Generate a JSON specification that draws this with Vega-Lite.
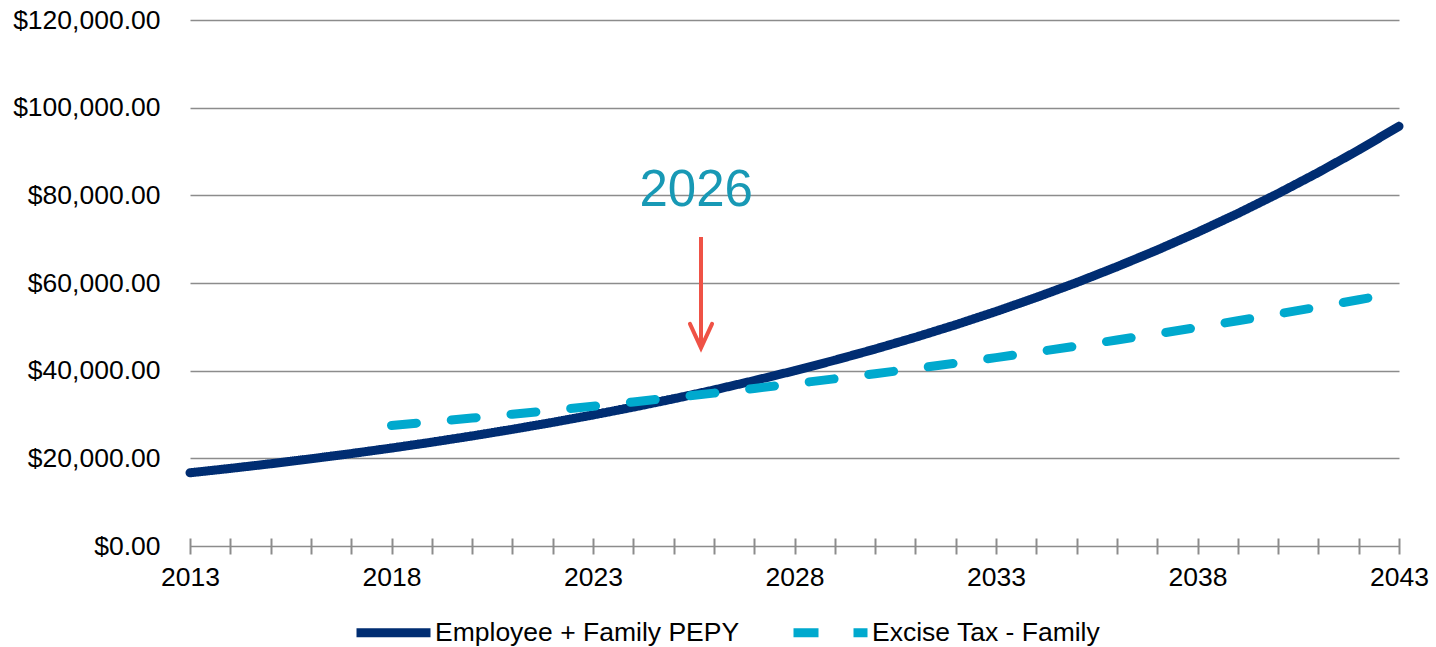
{
  "$schema": "https://vega.github.io/schema/vega-lite/v6.json",
  "autosize": "none",
  "width": 1209,
  "height": 526,
  "padding": {"left": 190, "top": 20, "right": 37, "bottom": 101},
  "background": "white",
  "config": {
    "view": {"stroke": null},
    "font": "Liberation Sans",
    "axis": {"labelFont": "Liberation Sans", "labelColor": "#000000", "labelFontSize": 26.5}
  },
  "datasets": {
    "lines": [
      {"year": 2013, "value": 16700, "series": "Employee + Family PEPY"},
      {"year": 2014, "value": 17700, "series": "Employee + Family PEPY"},
      {"year": 2015, "value": 18760, "series": "Employee + Family PEPY"},
      {"year": 2016, "value": 19890, "series": "Employee + Family PEPY"},
      {"year": 2017, "value": 21080, "series": "Employee + Family PEPY"},
      {"year": 2018, "value": 22340, "series": "Employee + Family PEPY"},
      {"year": 2019, "value": 23680, "series": "Employee + Family PEPY"},
      {"year": 2020, "value": 25100, "series": "Employee + Family PEPY"},
      {"year": 2021, "value": 26610, "series": "Employee + Family PEPY"},
      {"year": 2022, "value": 28200, "series": "Employee + Family PEPY"},
      {"year": 2023, "value": 29890, "series": "Employee + Family PEPY"},
      {"year": 2024, "value": 31680, "series": "Employee + Family PEPY"},
      {"year": 2025, "value": 33580, "series": "Employee + Family PEPY"},
      {"year": 2026, "value": 35590, "series": "Employee + Family PEPY"},
      {"year": 2027, "value": 37730, "series": "Employee + Family PEPY"},
      {"year": 2028, "value": 39990, "series": "Employee + Family PEPY"},
      {"year": 2029, "value": 42390, "series": "Employee + Family PEPY"},
      {"year": 2030, "value": 44930, "series": "Employee + Family PEPY"},
      {"year": 2031, "value": 47620, "series": "Employee + Family PEPY"},
      {"year": 2032, "value": 50470, "series": "Employee + Family PEPY"},
      {"year": 2033, "value": 53500, "series": "Employee + Family PEPY"},
      {"year": 2034, "value": 56710, "series": "Employee + Family PEPY"},
      {"year": 2035, "value": 60100, "series": "Employee + Family PEPY"},
      {"year": 2036, "value": 63710, "series": "Employee + Family PEPY"},
      {"year": 2037, "value": 67520, "series": "Employee + Family PEPY"},
      {"year": 2038, "value": 71570, "series": "Employee + Family PEPY"},
      {"year": 2039, "value": 75860, "series": "Employee + Family PEPY"},
      {"year": 2040, "value": 80410, "series": "Employee + Family PEPY"},
      {"year": 2041, "value": 85230, "series": "Employee + Family PEPY"},
      {"year": 2042, "value": 90330, "series": "Employee + Family PEPY"},
      {"year": 2043, "value": 95750, "series": "Employee + Family PEPY"},
      {"year": 2018, "value": 27500, "series": "Excise Tax - Family"},
      {"year": 2019, "value": 28330, "series": "Excise Tax - Family"},
      {"year": 2020, "value": 29180, "series": "Excise Tax - Family"},
      {"year": 2021, "value": 30060, "series": "Excise Tax - Family"},
      {"year": 2022, "value": 30970, "series": "Excise Tax - Family"},
      {"year": 2023, "value": 31900, "series": "Excise Tax - Family"},
      {"year": 2024, "value": 32870, "series": "Excise Tax - Family"},
      {"year": 2025, "value": 33860, "series": "Excise Tax - Family"},
      {"year": 2026, "value": 34880, "series": "Excise Tax - Family"},
      {"year": 2027, "value": 35940, "series": "Excise Tax - Family"},
      {"year": 2028, "value": 37030, "series": "Excise Tax - Family"},
      {"year": 2029, "value": 38150, "series": "Excise Tax - Family"},
      {"year": 2030, "value": 39300, "series": "Excise Tax - Family"},
      {"year": 2031, "value": 40490, "series": "Excise Tax - Family"},
      {"year": 2032, "value": 41710, "series": "Excise Tax - Family"},
      {"year": 2033, "value": 42970, "series": "Excise Tax - Family"},
      {"year": 2034, "value": 44270, "series": "Excise Tax - Family"},
      {"year": 2035, "value": 45610, "series": "Excise Tax - Family"},
      {"year": 2036, "value": 46990, "series": "Excise Tax - Family"},
      {"year": 2037, "value": 48410, "series": "Excise Tax - Family"},
      {"year": 2038, "value": 49870, "series": "Excise Tax - Family"},
      {"year": 2039, "value": 51380, "series": "Excise Tax - Family"},
      {"year": 2040, "value": 52930, "series": "Excise Tax - Family"},
      {"year": 2041, "value": 54530, "series": "Excise Tax - Family"},
      {"year": 2042, "value": 56180, "series": "Excise Tax - Family"},
      {"year": 2043, "value": 57870, "series": "Excise Tax - Family"}
    ],
    "label": [{"year": 2025.56, "value": 77570, "text": "2026"}],
    "arrow": [{"year": 2025.68, "top": 70500, "tip": 45200, "shaftEnd": 46200}]
  },
  "layer": [
    {
      "data": {"name": "lines"},
      "mark": {"type": "line", "strokeWidth": 9, "strokeCap": "round", "strokeJoin": "round"},
      "encoding": {
        "x": {
          "field": "year", "type": "quantitative",
          "scale": {"domain": [2013, 2043], "nice": false, "zero": false},
          "axis": {
            "title": null,
            "values": [2013,2014,2015,2016,2017,2018,2019,2020,2021,2022,2023,2024,2025,2026,2027,2028,2029,2030,2031,2032,2033,2034,2035,2036,2037,2038,2039,2040,2041,2042,2043],
            "labelExpr": "(datum.value - 2013) % 5 == 0 ? datum.value : ''",
            "format": "d",
            "grid": false,
            "domain": false,
            "offset": -8,
            "tickSize": 16,
            "tickColor": "#8c8c8c",
            "tickWidth": 2,
            "labelPadding": 10,
            "labelFlush": false,
            "labelOverlap": false
          }
        },
        "y": {
          "field": "value", "type": "quantitative",
          "scale": {"domain": [0, 120000], "nice": false},
          "axis": {
            "title": null,
            "values": [0, 20000, 40000, 60000, 80000, 100000, 120000],
            "format": "$,.2f",
            "domain": false,
            "ticks": false,
            "labelPadding": 30,
            "gridColor": "#8c8c8c",
            "gridWidth": 1.6
          }
        },
        "color": {
          "field": "series", "type": "nominal",
          "scale": {"domain": ["Employee + Family PEPY", "Excise Tax - Family"], "range": ["#002D72", "#00A9CE"]},
          "legend": {
            "title": null,
            "orient": "none",
            "direction": "horizontal",
            "legendX": 162,
            "legendY": 571,
            "symbolType": "stroke",
            "symbolSize": 5476,
            "symbolStrokeWidth": 9,
            "labelFontSize": 26.5,
            "labelFont": "Liberation Sans",
            "labelColor": "#000000",
            "labelLimit": 0,
            "labelOffset": 0,
            "columnPadding": 35,
            "padding": 0
          }
        },
        "strokeDash": {
          "field": "series", "type": "nominal",
          "scale": {"domain": ["Employee + Family PEPY", "Excise Tax - Family"], "range": [[1, 0], [25, 35]]},
          "legend": null
        }
      }
    },
    {
      "data": {"name": "arrow"},
      "mark": {"type": "rule", "color": "#EF5246", "strokeWidth": 4},
      "encoding": {
        "x": {"field": "year", "type": "quantitative"},
        "y": {"field": "top", "type": "quantitative"},
        "y2": {"field": "shaftEnd"}
      }
    },
    {
      "data": {"name": "arrow"},
      "mark": {"type": "point", "shape": "M-0.46,-1L0,0L0.46,-1", "size": 2304, "filled": false, "stroke": "#EF5246", "strokeWidth": 4, "strokeCap": "round", "strokeJoin": "miter", "opacity": 1},
      "encoding": {
        "x": {"field": "year", "type": "quantitative"},
        "y": {"field": "tip", "type": "quantitative"}
      }
    },
    {
      "data": {"name": "label"},
      "mark": {"type": "text", "font": "Liberation Sans", "fontSize": 51, "color": "#1899B5", "align": "center", "baseline": "alphabetic"},
      "encoding": {
        "x": {"field": "year", "type": "quantitative"},
        "y": {"field": "value", "type": "quantitative"},
        "text": {"field": "text"}
      }
    }
  ]
}
